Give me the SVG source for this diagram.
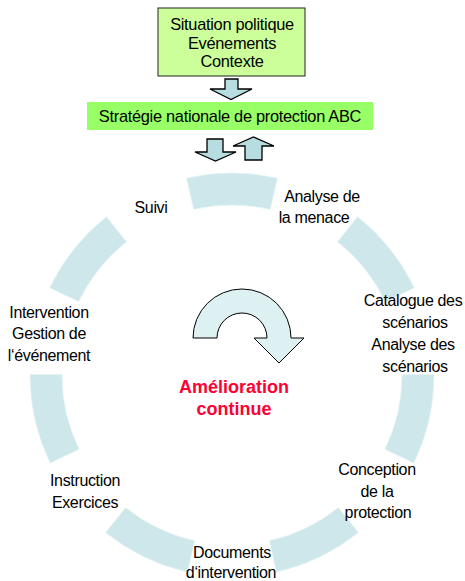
<svg xmlns="http://www.w3.org/2000/svg" width="465" height="581" viewBox="0 0 465 581">
<style>
text{font-family:"Liberation Sans",Arial,sans-serif;fill:#000;text-anchor:middle}
.lbl{font-size:16px;letter-spacing:-0.35px}
.box{font-size:16.4px;letter-spacing:-0.3px}
.seg{fill:#cde7eb;stroke:#e4f2f4;stroke-width:0.8}
.blk{fill:#b7dde1;stroke:#000;stroke-width:1.3;stroke-linejoin:miter}
.red{font-size:18px;font-weight:bold;fill:#ff0033}
</style>
<rect width="465" height="581" fill="#fff"/>
<g id="cycle">
<path class="seg" d="M186.56 178.18 A202 202 0 0 1 277.44 178.18 L270.24 209.36 A170 170 0 0 0 193.76 209.36 Z"/>
<path class="seg" d="M357.55 216.75 A202 202 0 0 1 414.22 287.81 L385.35 301.62 A170 170 0 0 0 337.66 241.82 Z"/>
<path class="seg" d="M434 374.5 A202 202 0 0 1 413.78 463.1 L384.98 449.14 A170 170 0 0 0 402 374.58 Z"/>
<path class="seg" d="M358.34 532.62 A202 202 0 0 1 276.46 572.05 L269.41 540.83 A170 170 0 0 0 338.32 507.65 Z"/>
<path class="seg" d="M187.54 572.05 A202 202 0 0 1 105.66 532.62 L125.68 507.65 A170 170 0 0 0 194.59 540.83 Z"/>
<path class="seg" d="M50.22 463.1 A202 202 0 0 1 30 374.5 L62 374.58 A170 170 0 0 0 79.02 449.14 Z"/>
<path class="seg" d="M49.78 287.81 A202 202 0 0 1 106.45 216.75 L126.34 241.82 A170 170 0 0 0 78.65 301.62 Z"/>
</g>
<g id="node-situation">
<rect x="158" y="8" width="147" height="68" fill="#ccff99" stroke="#222" stroke-width="1"/>
<text class="box" x="232" y="30">Situation politique</text>
<text class="box" x="232" y="49">Evénements</text>
<text class="box" x="232" y="67">Contexte</text>
</g>
<g id="node-strategie">
<rect x="87" y="102" width="286" height="28" fill="#99ff66"/>
<text class="box" x="230" y="122">Stratégie nationale de protection ABC</text>
</g>
<g id="connectors">
<path class="blk" d="M225 79 H238 V89 H252 L231 99.5 L210 89 H225 Z"/>
<path class="blk" d="M207 139 H223 V152 H236 L215.5 161 L195 152 H207 Z"/>
<path class="blk" d="M245 160 V146 H233 L253.5 137 L274 146 H262 V160 Z"/>
</g>
<g id="node-analyse">
<text class="lbl" x="322" y="202">Analyse de</text>
<text class="lbl" x="314" y="223">la menace</text>
</g>
<g id="node-catalogue">
<text class="lbl" x="413" y="306">Catalogue des</text>
<text class="lbl" x="415" y="328">scénarios</text>
<text class="lbl" x="413" y="350">Analyse des</text>
<text class="lbl" x="415" y="372">scénarios</text>
</g>
<g id="node-conception">
<text class="lbl" x="377" y="475">Conception</text>
<text class="lbl" x="377" y="497">de la</text>
<text class="lbl" x="378" y="518">protection</text>
</g>
<g id="node-documents">
<text class="lbl" x="232" y="558">Documents</text>
<text class="lbl" x="231" y="578">d‘intervention</text>
</g>
<g id="node-instruction">
<text class="lbl" x="85" y="486">Instruction</text>
<text class="lbl" x="85" y="508">Exercices</text>
</g>
<g id="node-intervention">
<text class="lbl" x="49" y="318">Intervention</text>
<text class="lbl" x="49" y="339">Gestion de</text>
<text class="lbl" x="49" y="361">l‘événement</text>
</g>
<g id="node-suivi">
<text class="lbl" x="151" y="213">Suivi</text>
</g>
<g id="center">
<path d="M193 338 A49 49 0 0 1 291 338 L304 338 L279 363 L254 338 L267 338 A25 25 0 0 0 217 338 Z" fill="#ddf0f2" stroke="#000" stroke-width="1"/>
<text class="red" x="234" y="393">Amélioration</text>
<text class="red" x="234" y="415">continue</text>
</g>
</svg>
